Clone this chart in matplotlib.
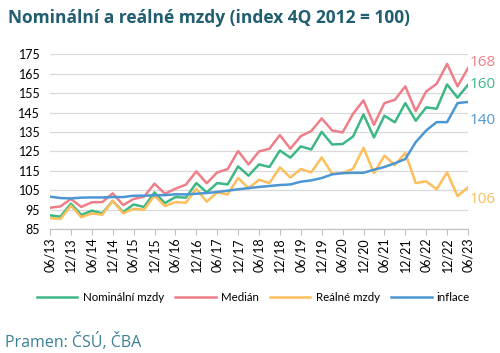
import matplotlib.pyplot as plt
import numpy as np

# ctvrtletni data 06/13 .. 06/23 (index 4Q 2012 = 100)
nominalni = [92.1, 91.4, 98.1, 92.3, 94.5, 93.1, 99.5, 93.8, 97.7, 96.4,
             103.9, 98.4, 101.5, 101.2, 108.7, 103.9, 108.7, 108.0, 117.3, 112.5,
             118.3, 117.0, 125.5, 121.8, 127.6, 126.0, 135.1, 128.6, 128.8, 132.7,
             144.1, 132.2, 143.4, 140.0, 149.9, 140.8, 147.7, 147.0, 159.5, 152.7,
             159.3]
median = [96.0, 96.7, 100.5, 96.4, 98.8, 98.9, 103.4, 97.4, 100.5, 101.7,
          108.4, 103.2, 105.8, 107.9, 114.7, 108.6, 114.2, 115.9, 125.2, 118.3,
          125.0, 126.4, 133.4, 126.4, 132.9, 135.5, 142.0, 135.8, 134.8, 144.4,
          151.3, 138.7, 149.9, 151.6, 158.5, 145.8, 155.9, 159.8, 170.1, 158.5,
          167.9]
realne = [90.7, 90.2, 97.1, 91.1, 93.1, 92.4, 99.6, 93.1, 95.5, 95.0,
          102.2, 96.9, 98.9, 98.6, 105.8, 99.1, 103.9, 102.9, 111.3, 106.1,
          110.4, 108.7, 116.8, 111.6, 115.9, 114.2, 121.9, 113.5, 113.8, 116.1,
          126.9, 113.8, 122.8, 118.0, 124.2, 108.7, 109.6, 105.5, 114.2, 102.0,
          106.5]
inflace = [101.7, 101.0, 100.8, 101.2, 101.3, 101.3, 101.5, 101.5, 102.2, 102.2,
           102.4, 102.5, 102.9, 102.9, 103.2, 103.6, 104.1, 104.8, 105.5, 106.1,
           106.7, 107.2, 107.7, 108.0, 109.4, 110.1, 111.3, 113.2, 113.8, 114.0,
           114.0, 115.6, 117.0, 118.9, 121.1, 129.8, 135.8, 140.1, 140.1, 149.9,
           150.5]
tick_labels = ["06/13", "12/13", "06/14", "12/14", "06/15", "12/15", "06/16",
               "12/16", "06/17", "12/17", "06/18", "12/18", "06/19", "12/19",
               "06/20", "12/20", "06/21", "12/21", "06/22", "12/22", "06/23"]
end_labels = ["168", "160", "140", "106"]

c_nom = "#3DB884"
c_med = "#EE7F88"
c_real = "#FDBE5C"
c_inf = "#4C97D3"

plt.rcParams['font.family'] = ['Lato', 'DejaVu Sans']

fig = plt.figure(figsize=(5, 3.53), dpi=100)
ax = fig.add_axes([0.1, 0.351, 0.836, 0.495])

x = np.arange(len(nominalni))
lw = 1.8
ax.plot(x, nominalni, color=c_nom, lw=lw, label="Nominální mzdy")
ax.plot(x, median, color=c_med, lw=lw, label="Medián")
ax.plot(x, realne, color=c_real, lw=lw, label="Reálné mzdy")
ax.plot(x, inflace, color=c_inf, lw=lw, label="inflace")

ax.set_xlim(0, len(x) - 1)
ax.set_ylim(85, 175)
ax.set_yticks(np.arange(85, 176, 10))
ax.set_xticks(x[::2])
ax.set_xticklabels(tick_labels, rotation=90, fontsize=9)
ax.tick_params(axis='y', length=0, labelsize=9, pad=7)
ax.tick_params(axis='x', length=4, color="#BFBFBF", pad=2)
ax.grid(axis='y', color="#D9D9D9", lw=0.9)
ax.set_axisbelow(True)
for s in ["top", "right", "left"]:
    ax.spines[s].set_visible(False)
ax.spines["bottom"].set_color("#BFBFBF")

# popisky na konci linii
lab_y = [0.951, 0.83, 0.624, 0.172]
lab_c = [c_med, c_nom, c_inf, c_real]
for txt, yy, cc in zip(end_labels, lab_y, lab_c):
    ax.text(1.004, yy, txt, transform=ax.transAxes, color=cc, fontsize=11,
            va='center', family=['Open Sans', 'DejaVu Sans'])

fig.legend(loc='center', bbox_to_anchor=(0.507, 0.156), ncol=4, frameon=False,
           fontsize=8.3, handlelength=3.5, columnspacing=1.0, handletextpad=0.45)

fig.text(0.015, 0.95, "Nominální a reálné mzdy (index 4Q 2012 = 100)", fontsize=12.5,
         fontweight='bold', color="#215F70", va='center', family=['Open Sans', 'DejaVu Sans'])
fig.text(0.01, 0.03, "Pramen: ČSÚ, ČBA", fontsize=11.5, color="#3A8095", va='center',
         family=['Open Sans', 'DejaVu Sans'])

fig.savefig("out.png", dpi=100)
